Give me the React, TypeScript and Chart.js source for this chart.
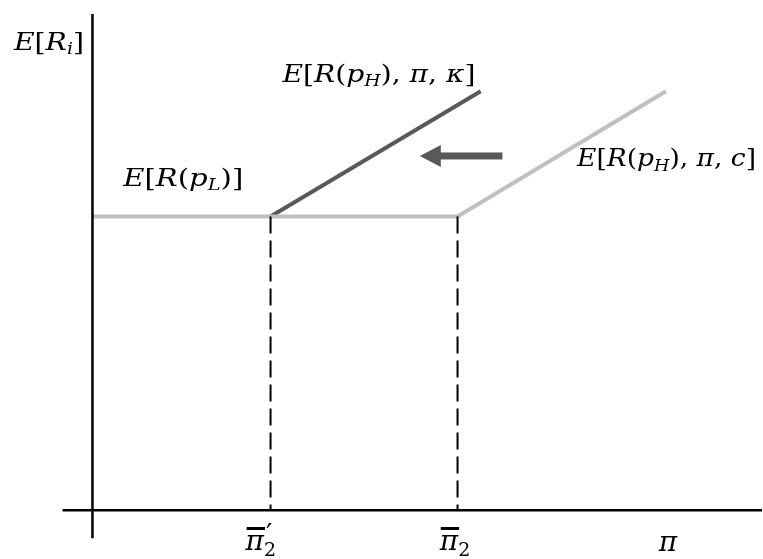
import React, { useEffect, useRef } from "react";
import { Chart, registerables } from "chart.js";

Chart.register(...registerables);

// ---- data (arbitrary conceptual units) ----
const piBarPrime = 1.0; // threshold after shift
const piBar = 2.05; // original threshold
const lowReturn = 1.0; // E[R(p_L)]
const kappaLine = [
  { x: piBarPrime, y: lowReturn },
  { x: 2.18, y: 1.426 },
];
const cLine = [
  { x: 0, y: lowReturn },
  { x: piBar, y: lowReturn },
  { x: 3.22, y: 1.426 },
];
const xAxisLine = [
  { x: -0.168, y: 0 },
  { x: 3.76, y: 0 },
];
const yAxisLine = [
  { x: 0, y: -0.095 },
  { x: 0, y: 1.689 },
];
const arrowFromX = 2.302;
const arrowToX = 1.838;
const arrowY = 1.206;

type Tok = { t: string; it?: boolean; sub?: string; subIt?: boolean; sup?: string; bar?: boolean };

const labelERi: Tok[] = [{ t: "E", it: true }, { t: "[" }, { t: "R", it: true, sub: "i", subIt: true }, { t: "]" }];
const labelKappa: Tok[] = [
  { t: "E", it: true }, { t: "[" }, { t: "R", it: true }, { t: "(" }, { t: "p", it: true, sub: "H", subIt: true },
  { t: ")," }, { t: " π", it: true }, { t: "," }, { t: " κ", it: true }, { t: "]" },
];
const labelPL: Tok[] = [
  { t: "E", it: true }, { t: "[" }, { t: "R", it: true }, { t: "(" }, { t: "p", it: true, sub: "L", subIt: true }, { t: ")]" },
];
const labelC: Tok[] = [
  { t: "E", it: true }, { t: "[" }, { t: "R", it: true }, { t: "(" }, { t: "p", it: true, sub: "H", subIt: true },
  { t: ")," }, { t: " π", it: true }, { t: "," }, { t: " c", it: true }, { t: "]" },
];
const labelPiBarPrime: Tok[] = [{ t: "π", it: true, bar: true, sup: "′", sub: "2" }];
const labelPiBar: Tok[] = [{ t: "π", it: true, bar: true, sub: "2" }];
const labelPi: Tok[] = [{ t: "π", it: true }];

// label anchors: data coords of left/baseline, target width px (0 = natural), font size
const labels: { toks: Tok[]; x: number; y: number; w: number; fs: number }[] = [
  { toks: labelERi, x: -0.441, y: 1.568, w: 70, fs: 24 },
  { toks: labelKappa, x: 1.067, y: 1.459, w: 193, fs: 24 },
  { toks: labelPL, x: 0.173, y: 1.105, w: 120, fs: 24 },
  { toks: labelC, x: 2.721, y: 1.172, w: 179, fs: 24 },
  { toks: labelPiBarPrime, x: 0.86, y: -0.135, w: 0, fs: 28 },
  { toks: labelPiBar, x: 1.95, y: -0.135, w: 0, fs: 28 },
  { toks: labelPi, x: 3.18, y: -0.139, w: 0, fs: 28 },
];

const FAMILY = '"DejaVu Serif", "Liberation Serif", serif';

function font(size: number, it?: boolean) {
  return (it ? "italic " : "") + size + "px " + FAMILY;
}

function drawToks(ctx: CanvasRenderingContext2D, toks: Tok[], FS: number, draw: boolean): number {
  let x = 0;
  const base = 0;
  const sfs = Math.round(FS * 0.68);
  for (const tk of toks) {
    ctx.font = font(FS, tk.it);
    const w = ctx.measureText(tk.t).width;
    if (draw) {
      ctx.fillText(tk.t, x, base);
      if (tk.bar) {
        ctx.fillRect(x + 1, base - FS * 0.82, w, 3);
      }
    }
    x += w;
    let extra = 0;
    if (tk.sup) {
      ctx.font = font(FS, false);
      if (draw) ctx.fillText(tk.sup, x + 2, base - FS * 0.2);
      extra = Math.max(extra, ctx.measureText(tk.sup).width + 2);
    }
    if (tk.sub) {
      ctx.font = font(sfs, tk.subIt);
      if (draw) ctx.fillText(tk.sub, x, base + FS * 0.2);
      extra = Math.max(extra, ctx.measureText(tk.sub).width);
    }
    x += extra;
  }
  return x;
}

const annotPlugin = {
  id: "annot",
  afterDatasetsDraw(chart: any) {
    const { ctx, scales } = chart;
    const xs = scales.x;
    const ys = scales.y;
    ctx.save();
    // arrow
    const tx = xs.getPixelForValue(arrowToX);
    const fx = xs.getPixelForValue(arrowFromX);
    const ay = ys.getPixelForValue(arrowY);
    ctx.fillStyle = "#595959";
    ctx.fillRect(tx + 18, ay - 3.5, fx - tx - 18, 7);
    ctx.beginPath();
    ctx.moveTo(tx, ay);
    ctx.lineTo(tx + 21, ay - 11);
    ctx.lineTo(tx + 21, ay + 11);
    ctx.closePath();
    ctx.fill();
    // labels
    ctx.fillStyle = "#000";
    ctx.textBaseline = "alphabetic";
    ctx.textAlign = "left";
    for (const lb of labels) {
      const px = xs.getPixelForValue(lb.x);
      const py = ys.getPixelForValue(lb.y);
      const nat = drawToks(ctx, lb.toks, lb.fs, false);
      const s = lb.w ? lb.w / nat : 1;
      ctx.save();
      ctx.translate(px, py);
      ctx.scale(s, 1);
      drawToks(ctx, lb.toks, lb.fs, true);
      ctx.restore();
    }
    ctx.restore();
  },
};

export default function App() {
  const ref = useRef<HTMLCanvasElement | null>(null);
  useEffect(() => {
    document.body.style.margin = "0";
    const chart = new Chart(ref.current!, {
      type: "scatter",
      data: {
        datasets: [
          { data: xAxisLine, showLine: true, borderColor: "#000", borderWidth: 2.5, pointRadius: 0 },
          { data: yAxisLine, showLine: true, borderColor: "#000", borderWidth: 2.5, pointRadius: 0 },
          {
            data: [{ x: piBarPrime, y: lowReturn }, { x: piBarPrime, y: 0 }],
            showLine: true, borderColor: "#000", borderWidth: 2, borderDash: [17, 7], pointRadius: 0,
          },
          {
            data: [{ x: piBar, y: lowReturn }, { x: piBar, y: 0 }],
            showLine: true, borderColor: "#000", borderWidth: 2, borderDash: [17, 7], pointRadius: 0,
          },
          { data: cLine, showLine: true, borderColor: "#bfbfbf", borderWidth: 4, pointRadius: 0 },
          { data: kappaLine, showLine: true, borderColor: "#595959", borderWidth: 4, pointRadius: 0 },
        ],
      },
      options: {
        animation: false,
        responsive: false,
        devicePixelRatio: 1,
        layout: { padding: 0 },
        plugins: { legend: { display: false }, tooltip: { enabled: false } },
        events: [],
        scales: {
          x: { type: "linear", min: -0.508, max: 3.754, display: false },
          y: { type: "linear", min: -0.159, max: 1.73, display: false },
        },
        elements: { line: { tension: 0, borderCapStyle: "butt" } },
      } as any,
      plugins: [annotPlugin],
    } as any);
    (chart.data.datasets as any[]).forEach((d) => (d.clip = false));
    chart.update();
    return () => chart.destroy();
  }, []);
  return (
    <div style={{ position: "absolute", left: 0, top: 0, width: 763, height: 559, background: "#fff" }}>
      <canvas ref={ref} width={763} height={559} style={{ width: 763, height: 559, display: "block" }} />
    </div>
  );
}
